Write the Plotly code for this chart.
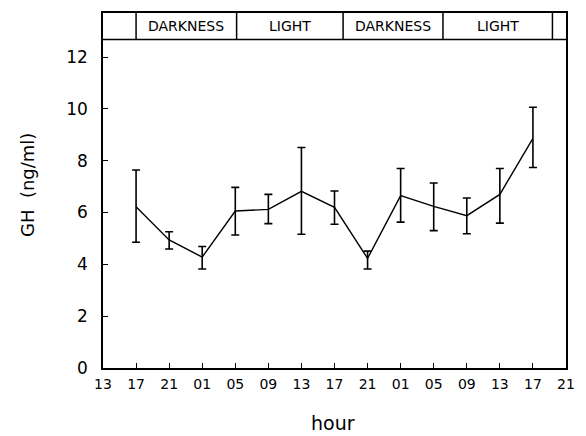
import plotly.graph_objects as go

# Sampling times (4-hour steps) and tick labels on the hour axis
hour_labels = ["13", "17", "21", "01", "05", "09", "13", "17", "21",
               "01", "05", "09", "13", "17", "21"]
sample_idx = list(range(1, 14))

# Mean GH (ng/ml) with upper / lower ends of the error bars
gh_mean = [6.22, 4.94, 4.28, 6.06, 6.12, 6.82, 6.20, 4.23, 6.65, 6.24, 5.88, 6.70, 8.86]
gh_upper = [7.64, 5.26, 4.69, 6.97, 6.70, 8.51, 6.83, 4.51, 7.70, 7.14, 6.56, 7.70, 10.06]
gh_lower = [4.85, 4.59, 3.82, 5.13, 5.57, 5.16, 5.55, 3.82, 5.63, 5.30, 5.18, 5.59, 7.74]

# Light/dark periods shown in the strip above the plot (axis units)
period_edges = [0, 1.0, 4.04, 7.26, 10.28, 13.59, 14]
period_names = ["", "DARKNESS", "LIGHT", "DARKNESS", "LIGHT", ""]

FONT = "DejaVu Sans"
Y_MAX = 12.68   # top of the data area / bottom of the period strip
Y_TOP = 13.7    # top of the period strip

err_plus = [u - m for u, m in zip(gh_upper, gh_mean)]
err_minus = [m - l for m, l in zip(gh_mean, gh_lower)]

fig = go.Figure()
fig.add_trace(go.Scatter(
    x=sample_idx, y=gh_mean, mode="lines",
    line=dict(color="black", width=1.4),
    error_y=dict(type="data", symmetric=False, array=err_plus, arrayminus=err_minus,
                 color="black", thickness=1.6, width=4),
    showlegend=False, hoverinfo="skip",
))

shapes = [dict(type="line", xref="x", yref="y", x0=0, x1=14, y0=Y_MAX, y1=Y_MAX,
               line=dict(color="black", width=1.5))]
annotations = []
for i, name in enumerate(period_names):
    x0, x1 = period_edges[i], period_edges[i + 1]
    if 0 < x0:
        shapes.append(dict(type="line", xref="x", yref="y", x0=x0, x1=x0,
                           y0=Y_MAX, y1=Y_TOP, line=dict(color="black", width=1.5)))
    if name:
        annotations.append(dict(x=(x0 + x1) / 2, y=(Y_MAX + Y_TOP) / 2, xref="x", yref="y",
                                text=name, showarrow=False,
                                font=dict(family=FONT, size=14, color="black")))

annotations.append(dict(x=0.496, y=-0.155, xref="paper", yref="paper", text="hour",
                        showarrow=False, xanchor="center", yanchor="middle",
                        font=dict(family=FONT, size=19, color="black")))
annotations.append(dict(x=-0.1645, y=0.515, xref="paper", yref="paper", text="GH  (ng/ml)",
                        showarrow=False, xanchor="center", yanchor="middle", textangle=-90,
                        font=dict(family=FONT, size=18, color="black")))

fig.update_layout(
    width=586, height=436,
    margin=dict(l=103, r=11, t=13, b=68),
    paper_bgcolor="white", plot_bgcolor="white",
    shapes=shapes, annotations=annotations,
    xaxis=dict(range=[0, 14], tickmode="array", tickvals=list(range(15)), ticktext=hour_labels,
               ticks="inside", ticklen=5, tickwidth=1.3, tickcolor="black",
               showline=True, linecolor="black", linewidth=1.5, mirror=True,
               showgrid=False, zeroline=False, ticklabelstandoff=2,
               tickfont=dict(family=FONT, size=14, color="black")),
    yaxis=dict(range=[0, Y_TOP], tickmode="array", tickvals=list(range(0, 13, 2)),
               ticks="inside", ticklen=5, tickwidth=1.3, tickcolor="black",
               showline=True, linecolor="black", linewidth=1.5, mirror=True,
               showgrid=False, zeroline=False, ticklabelstandoff=10,
               tickfont=dict(family=FONT, size=17, color="black")),
)

fig.write_html("out.html")
